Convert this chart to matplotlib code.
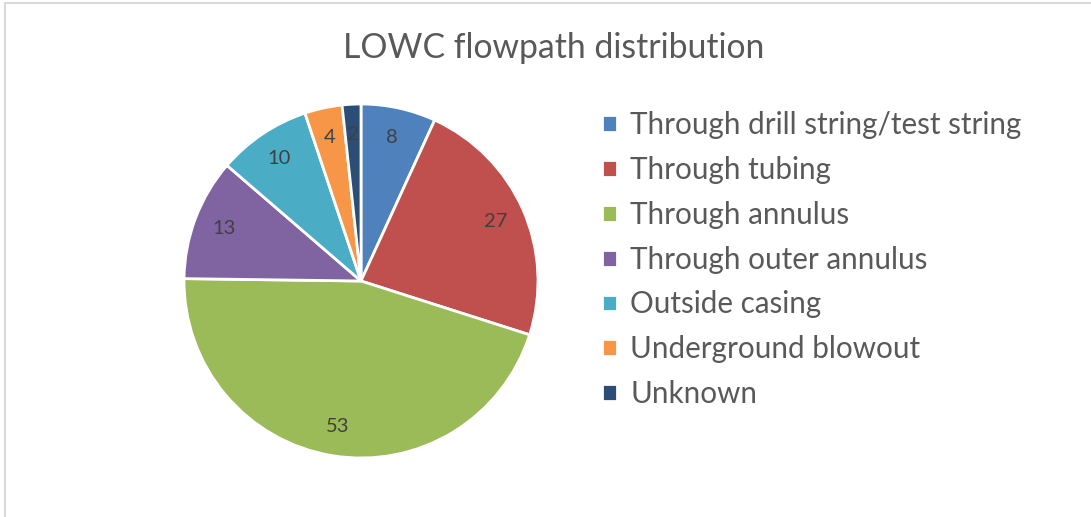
import matplotlib.pyplot as plt
from matplotlib.patches import Rectangle

categories = ['Through drill string/test string', 'Through tubing', 'Through annulus',
              'Through outer annulus', 'Outside casing', 'Underground blowout', 'Unknown']
counts = [8, 27, 53, 13, 10, 4, 2]
colors = ['#4F81BD', '#C0504D', '#9BBB59', '#8064A2', '#4BACC6', '#F79646', '#2C4D75']

plt.rcParams['font.family'] = ['Lato', 'DejaVu Sans']

fig = plt.figure(figsize=(10.91, 5.17), dpi=100)

# light grey chart frame (only left and top edge visible in the crop)
fig.patches.append(Rectangle((5 / 1091, -0.1), 1.2, (517 - 3) / 517 + 0.1,
                             transform=fig.transFigure, fill=False,
                             edgecolor='#D9D9D9', linewidth=1.5))

ax = fig.add_axes([184 / 1091, 59 / 517, 354 / 1091, 354 / 517])
wedges, texts = ax.pie(counts, colors=colors, startangle=90, counterclock=False,
                       labels=[str(c) for c in counts], labeldistance=0.83,
                       wedgeprops=dict(edgecolor='white', linewidth=2),
                       textprops=dict(color='#404040', fontsize=14.5))
for t in texts:
    t.set_ha('center')
    t.set_va('center')
ax.set_xlim(-1, 1)
ax.set_ylim(-1, 1)
ax.set_aspect('equal')

fig.text(554 / 1091, 1 - 48 / 517, 'LOWC flowpath distribution', ha='center', va='center',
         fontsize=24.3, color='#595959')

fig.legend(wedges, categories, loc='upper left', bbox_to_anchor=(602 / 1091, 1 - 111 / 517),
           frameon=False, fontsize=21.3, labelcolor='#595959',
           handlelength=0.5, handleheight=0.5, handletextpad=0.45, labelspacing=0.57,
           borderpad=0, borderaxespad=0)

fig.savefig('out.png', dpi=100)
